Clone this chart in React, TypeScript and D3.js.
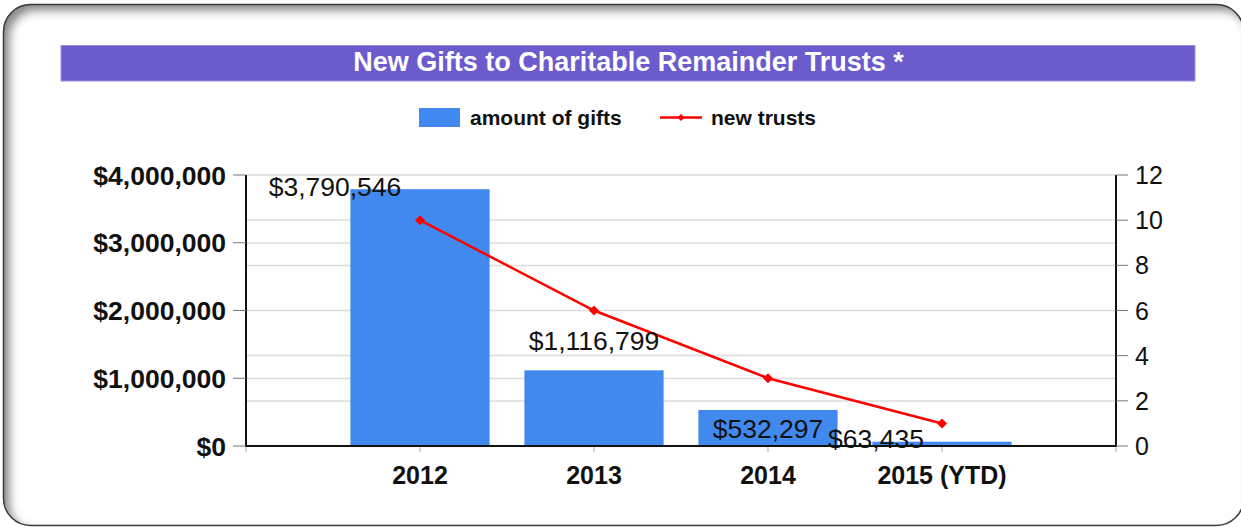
import React from "react";
import * as d3 from "d3";

const categories = ["2012", "2013", "2014", "2015 (YTD)"];
const giftAmounts = [3790546, 1116799, 532297, 63435];
const newTrusts = [10, 6, 3, 1];
const leftTicks = [0, 1000000, 2000000, 3000000, 4000000];
const rightTicks = [0, 2, 4, 6, 8, 10, 12];
const titleText = "New Gifts to Charitable Remainder Trusts *";
const legendBar = "amount of gifts";
const legendLine = "new trusts";

const W = 1241;
const H = 527;
const FONT = "'Liberation Sans', Arial, sans-serif";

export default function App() {
  const left = 246;
  const right = 1116;
  const top = 175;
  const bottom = 446;

  const x = d3.scaleLinear().domain([0, categories.length + 1]).range([left, right]);
  const step = x(1) - x(0);
  const barW = step * 0.8;
  const yL = d3.scaleLinear().domain([0, 4000000]).range([bottom, top]);
  const yR = d3.scaleLinear().domain([0, 12]).range([bottom, top]);
  const fmt = d3.format("$,");

  const gridYs = Array.from(
    new Set([...leftTicks.map((t) => Math.round(yL(t) * 2) / 2), ...rightTicks.map((t) => Math.round(yR(t) * 2) / 2)])
  );

  const line = d3
    .line<number>()
    .x((_, i) => x(i + 1))
    .y((d) => yR(d));

  const diamond = d3.symbol(d3.symbolSquare, 50)();
  const diamondSmall = d3.symbol(d3.symbolSquare, 26)();

  // label placement nudges (layout only): [dx, dy] relative to bar center / bar top
  const labelNudge: [number, number][] = [
    [-85, 7],
    [0, -20],
    [0, 28],
    [-66, 6],
  ];

  const bx = 3.5, by = 4.5, bw = 1240, bh = 521, br = 27;

  return (
    <svg
      width={W}
      height={H}
      style={{ position: "absolute", left: 0, top: 0, background: "#fff" }}
      fontFamily={FONT}
    >
      <defs>
        <clipPath id="frameClip">
          <rect x={bx} y={by} width={bw} height={bh} rx={br} ry={br} />
        </clipPath>
        <filter id="blur" x="-10%" y="-10%" width="120%" height="120%">
          <feGaussianBlur stdDeviation="5" />
        </filter>
      </defs>
      <rect x={bx} y={by} width={bw} height={bh} rx={br} ry={br} fill="#fff" />
      <g clipPath="url(#frameClip)">
        <path
          d={`M-100,-100H${W + 100}V${H + 100}H-100Z M${bx + br},${by} H${bx + bw - br} A${br},${br} 0 0 1 ${bx + bw},${by + br} V${by + bh - br} A${br},${br} 0 0 1 ${bx + bw - br},${by + bh} H${bx + br} A${br},${br} 0 0 1 ${bx},${by + bh - br} V${by + br} A${br},${br} 0 0 1 ${bx + br},${by} Z`}
          fill="#6a6a6a"
          fillRule="evenodd"
          transform="translate(6,6)"
          filter="url(#blur)"
          opacity={0.8}
        />
      </g>
      <rect x={bx} y={by} width={bw} height={bh} rx={br} ry={br} fill="none" stroke="#3a3a3a" strokeWidth={1.5} />

      {/* Title bar */}
      <rect x={61} y={45.5} width={1134} height={35.5} fill="#6b5bcd" stroke="#9a8ee0" strokeWidth={1} />
      <text x={628.5} y={71} textAnchor="middle" fill="#fff" fontWeight="bold" fontSize={27}>
        {titleText}
      </text>

      {/* Legend */}
      <rect x={419} y={108} width={41} height={19} fill="#4189ee" />
      <text x={470} y={125} fontSize={21} fontWeight="bold" fill="#111">
        {legendBar}
      </text>
      <line x1={660} x2={702} y1={117.5} y2={117.5} stroke="#ff0000" strokeWidth={2.5} />
      <path d={diamondSmall} transform="translate(681,117.5) rotate(45)" fill="#ff0000" />
      <text x={711} y={125} fontSize={21} fontWeight="bold" fill="#111">
        {legendLine}
      </text>

      {/* Grid */}
      {gridYs.map((gy) => (
        <line key={gy} x1={left} x2={right} y1={gy} y2={gy} stroke="#dcdcdc" strokeWidth={1.5} />
      ))}

      {/* Bars */}
      {giftAmounts.map((v, i) => (
        <rect
          key={categories[i]}
          x={x(i + 1) - barW / 2}
          y={yL(v)}
          width={barW}
          height={bottom - yL(v)}
          fill="#4189ee"
        />
      ))}

      {/* Line */}
      <path d={line(newTrusts) || ""} fill="none" stroke="#ff0000" strokeWidth={2.5} />
      {newTrusts.map((v, i) => (
        <path key={i} d={diamond} transform={`translate(${x(i + 1)},${yR(v)}) rotate(45)`} fill="#ff0000" />
      ))}

      {/* Bar labels */}
      {giftAmounts.map((v, i) => (
        <text
          key={"l" + i}
          x={x(i + 1) + labelNudge[i][0]}
          y={yL(v) + labelNudge[i][1]}
          textAnchor="middle"
          fontSize={26.5}
          fill="#111"
        >
          {fmt(v)}
        </text>
      ))}

      {/* Left axis */}
      <line x1={left} x2={left} y1={top} y2={bottom + 1} stroke="#111" strokeWidth={2} />
      {leftTicks.map((t) => (
        <g key={t} transform={`translate(0,${yL(t)})`}>
          <line x1={233} x2={left} stroke="#777" strokeWidth={1} />
          <text x={226} dy="0.36em" textAnchor="end" fontSize={26.5} fontWeight="bold" fill="#111">
            {fmt(t)}
          </text>
        </g>
      ))}

      {/* Right axis */}
      <line x1={right} x2={right} y1={top} y2={bottom + 1} stroke="#111" strokeWidth={2} />
      {rightTicks.map((t) => (
        <g key={t} transform={`translate(0,${yR(t)})`}>
          <line x1={right} x2={1128} stroke="#777" strokeWidth={1} />
          <text x={1135} dy="0.36em" textAnchor="start" fontSize={25} fill="#111">
            {t}
          </text>
        </g>
      ))}

      {/* X axis */}
      <line x1={left} x2={right} y1={bottom} y2={bottom} stroke="#111" strokeWidth={2} />
      {d3.range(0, categories.length + 2).map((k) => (
        <line key={k} x1={x(k)} x2={x(k)} y1={bottom + 1} y2={bottom + 6} stroke="#aaa" strokeWidth={1} />
      ))}
      {categories.map((c, i) => (
        <text key={c} x={x(i + 1)} y={484} textAnchor="middle" fontSize={25} fontWeight="bold" fill="#111">
          {c}
        </text>
      ))}
    </svg>
  );
}
